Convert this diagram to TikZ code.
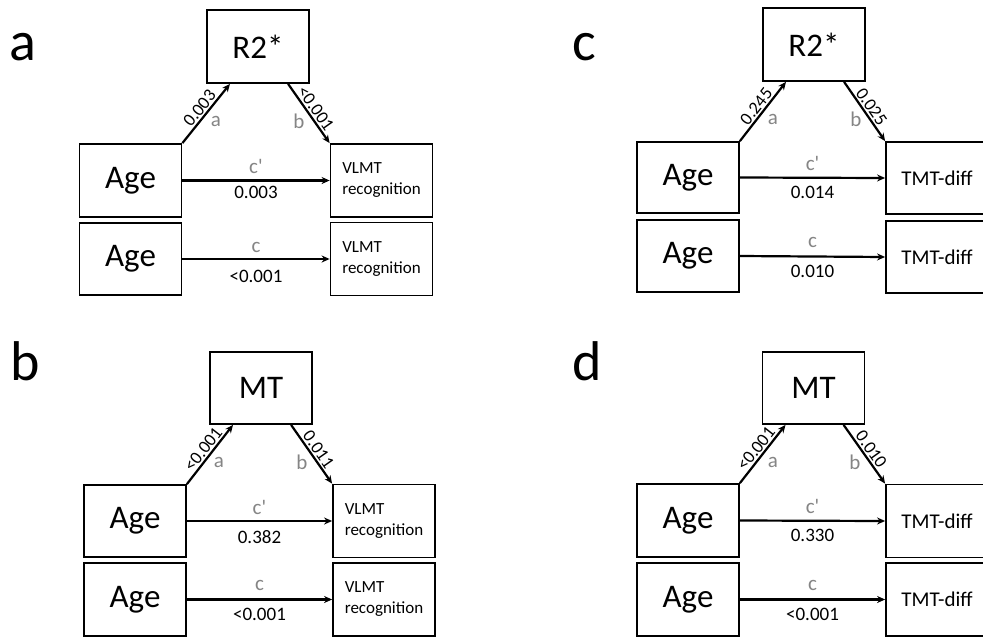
\documentclass[tikz,border=0pt]{standalone}
\usepackage{fontspec}
\setmainfont{Carlito}
\newfontfamily\qf{Carlito}
\usetikzlibrary{arrows.meta,calc}
\tikzset{
  box/.style={draw, line width=1.8pt, inner sep=0pt, minimum width=102pt, minimum height=73pt},
  big/.style={font=\fontsize{33}{38}\selectfont},
  vlmt/.style={font=\fontsize{17}{21}\selectfont, align=left},
  tmt/.style={font=\fontsize{21}{25}\selectfont},
  arr/.style={-{Stealth[length=8pt,width=7pt]}, line width=2.2pt},
  num/.style={font=\fontsize{19}{23}\selectfont, inner sep=0pt},
  graylab/.style={font=\fontsize{21}{25}\selectfont, text=black!48, inner sep=0pt},
  snum/.style={font=\fontsize{18}{20}\selectfont, sloped, above, inner sep=1.5pt},
  panellab/.style={font=\fontsize{56}{60}\selectfont, anchor=base, inner sep=0pt},
}
\begin{document}
\begin{tikzpicture}[x=1pt,y=-1pt]
\useasboundingbox (0,0) rectangle (983,637);
\clip (0,0) rectangle (983,637);

% ---------- panel a ----------
\node[panellab] (la) at (23,60) {a};
\node[box,big] (ra) at (258,46.5) {R2*};
\node[box,big] (aa1) at (130.5,180.5) {Age};
\node[box,big,minimum height=72pt] (aa2) at (130.5,259) {Age};
\node[box,vlmt] (va1) at (381.5,180.5) {VLMT\\recognition};
\node[box,vlmt] (va2) at (381.5,259) {VLMT\\recognition};
\draw[arr] (aa1.north east) -- node[snum] (naa) {0.003} ($(ra.south west)!0.23!(ra.south east)$);
\draw[arr] ($(ra.south west)!0.79!(ra.south east)$) -- node[snum] (nab) {<0.001} (va1.north west);
\draw[arr] (aa1.east) -- node[graylab, yshift=14pt] (cpa) {\qf c'} node[num, yshift=-12pt] (ncpa) {0.003} (va1.west);
\draw[arr] (aa2.east) -- node[graylab, yshift=12pt] (cca) {c} node[num, yshift=-17pt] (ncca) {<0.001} (va2.west);
\node[graylab] (gaa) at (216,121) {a};
\node[graylab] (gba) at (299,121) {b};

% ---------- panel c ----------
\node[panellab] (lc) at (584,60) {c};
\node[box,big] (rc) at (814,44.5) {R2*};
\node[box,big,minimum height=71pt] (ac1) at (688,177.5) {Age};
\node[box,big,minimum height=72pt] (ac2) at (688,256) {Age};
\node[box,tmt,minimum height=72pt] (tc1) at (937,178) {TMT-diff};
\node[box,tmt,minimum height=72pt] (tc2) at (937,257) {TMT-diff};
\draw[arr] (ac1.north east) -- node[snum] (nac) {0.245} ($(rc.south west)!0.23!(rc.south east)$);
\draw[arr] ($(rc.south west)!0.79!(rc.south east)$) -- node[snum] (nbc) {0.025} (tc1.north west);
\draw[arr] (ac1.east) -- node[graylab, yshift=14pt] (cpc) {\qf c'} node[num, yshift=-15pt] (ncpc) {0.014} (tc1.west);
\draw[arr] (ac2.east) -- node[graylab, yshift=14pt] (ccc) {c} node[num, yshift=-15pt] (nccc) {0.010} (tc2.west);
\node[graylab] (gac) at (773,119) {a};
\node[graylab] (gbc) at (856,119) {b};

% ---------- panel b ----------
\node[panellab] (lb) at (25,380) {b};
\node[box,big,minimum height=72pt] (rb) at (261,388) {MT};
\node[box,big,minimum height=72pt] (ab1) at (135,521) {Age};
\node[box,big] (ab2) at (135,599.5) {Age};
\node[box,vlmt] (vb1) at (384,521) {VLMT\\recognition};
\node[box,vlmt] (vb2) at (384,599.5) {VLMT\\recognition};
\draw[arr] (ab1.north east) -- node[snum] (nab2) {<0.001} ($(rb.south west)!0.23!(rb.south east)$);
\draw[arr] ($(rb.south west)!0.79!(rb.south east)$) -- node[snum] (nbb) {0.011} (vb1.north west);
\draw[arr] (ab1.east) -- node[graylab, yshift=14pt] (cpb) {\qf c'} node[num, yshift=-16pt] (ncpb) {0.382} (vb1.west);
\draw[arr] (ab2.east) -- node[graylab, yshift=14pt] (ccb) {c} node[num, yshift=-15pt] (nccb) {<0.001} (vb2.west);
\node[graylab] (gab) at (219,462) {a};
\node[graylab] (gbb) at (302,462) {b};

% ---------- panel d ----------
\node[panellab] (ld) at (587,380) {d};
\node[box,big,minimum height=72pt] (rd) at (813.5,388) {MT};
\node[box,big] (ad1) at (688,520.5) {Age};
\node[box,big] (ad2) at (688,599.5) {Age};
\node[box,tmt] (td1) at (937,521) {TMT-diff};
\node[box,tmt] (td2) at (937,599.5) {TMT-diff};
\draw[arr] (ad1.north east) -- node[snum] (nad) {<0.001} ($(rd.south west)!0.23!(rd.south east)$);
\draw[arr] ($(rd.south west)!0.79!(rd.south east)$) -- node[snum] (nbd) {0.010} (td1.north west);
\draw[arr] (ad1.east) -- node[graylab, yshift=14pt] (cpd) {\qf c'} node[num, yshift=-15pt] (ncpd) {0.330} (td1.west);
\draw[arr] (ad2.east) -- node[graylab, yshift=14pt] (ccd) {c} node[num, yshift=-15pt] (nccd) {<0.001} (td2.west);
\node[graylab] (gad) at (773,462) {a};
\node[graylab] (gbd) at (855,462) {b};
\end{tikzpicture}
\end{document}
